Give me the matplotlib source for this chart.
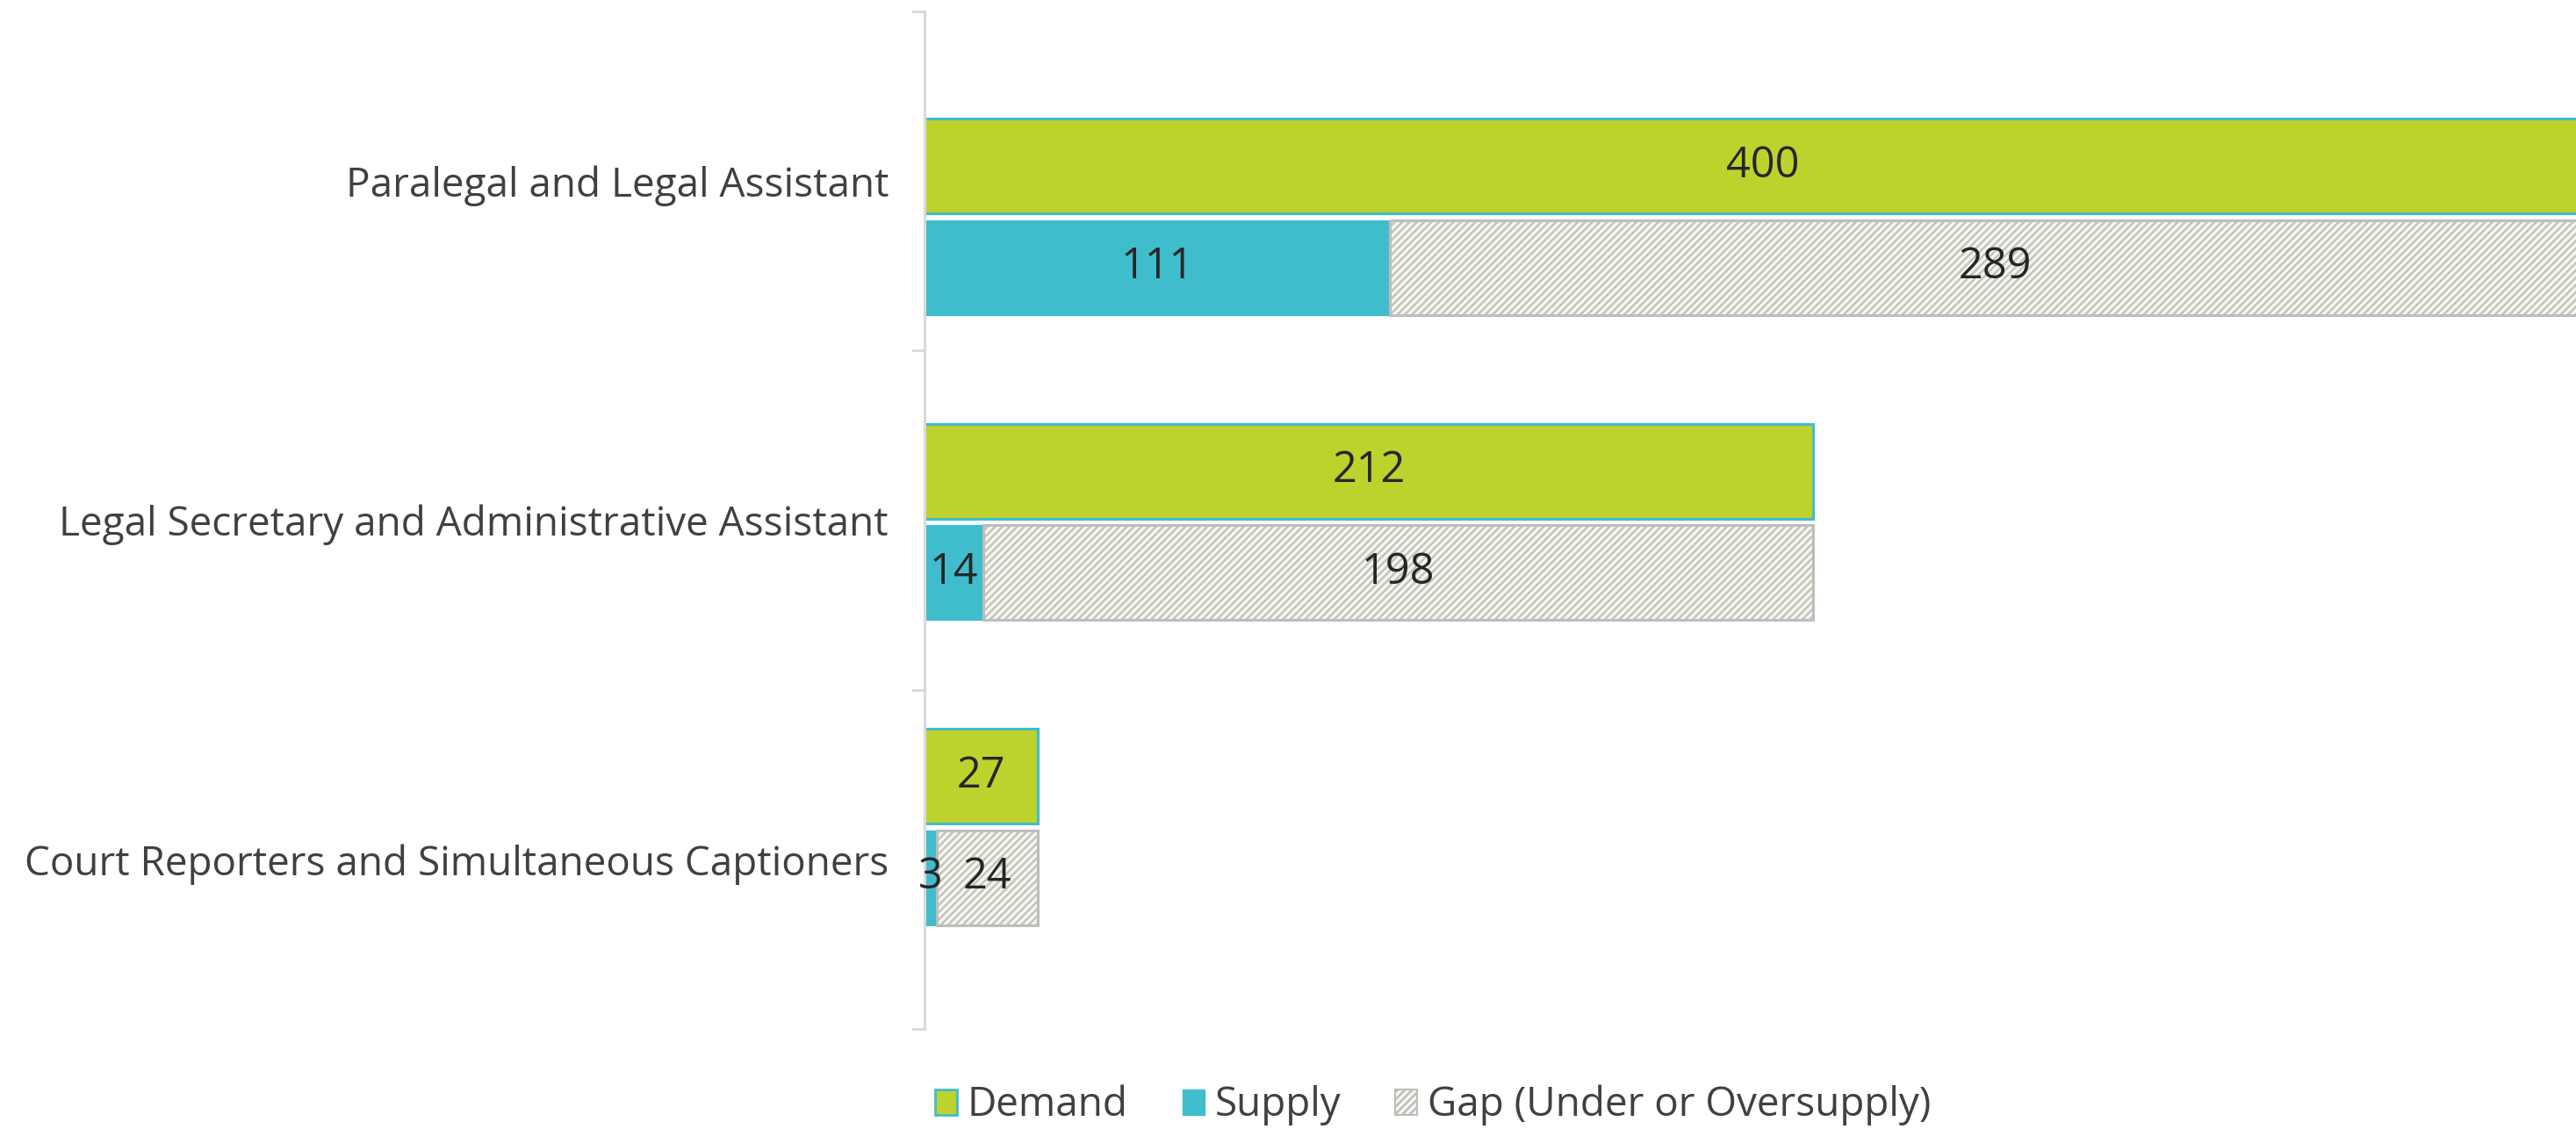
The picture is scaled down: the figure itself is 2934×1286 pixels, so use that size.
import matplotlib
matplotlib.use("Agg")
import matplotlib.pyplot as plt
from matplotlib.patches import Patch
import numpy as np

categories = ["Paralegal and Legal Assistant",
              "Legal Secretary and Administrative Assistant",
              "Court Reporters and Simultaneous Captioners"]
demand = [400, 212, 27]
supply = [111, 14, 3]
gap = [289, 198, 24]
legend_labels = ["Demand", "Supply", "Gap (Under or Oversupply)"]

GREEN = "#BED22E"
CYAN = "#40BDCD"
GAP_FILL = "#F6F6EE"
GAP_HATCH = "#C4C4BD"
GAP_EDGE = "#BDBDBD"
AXIS = "#D9D9D9"
TEXT = "#404040"

plt.rcParams['font.family'] = ['Open Sans', 'DejaVu Sans']
plt.rcParams['hatch.linewidth'] = 1.8

W, H, DPI = 2934, 1286, 100
fig = plt.figure(figsize=(W / DPI, H / DPI), dpi=DPI)
ax_left = 1053 / W
ax_top = 1 - 13 / H
ax_bot = 1 - 1172 / H
ax = fig.add_axes([ax_left, ax_bot, 1 - ax_left, ax_top - ax_bot])

px_per_unit = 4.774
ax.set_xlim(0, (W - 1053) / px_per_unit)
ax.set_ylim(2.5, -0.5)

n = len(categories)
cat_px = (1172 - 13) / 3.0
group_step = 347.5 / cat_px
bar_h = 108 / cat_px
demand_pos = -0.044 + group_step * np.arange(n)
supply_pos = demand_pos + 115.5 / cat_px

ax.barh(demand_pos, demand, height=bar_h, color=GREEN, edgecolor=CYAN, linewidth=2.2, zorder=2)
ax.barh(supply_pos, supply, height=bar_h, color=CYAN, edgecolor=CYAN, linewidth=0.8, zorder=2)
ax.barh(supply_pos, gap, left=supply, height=bar_h, color=GAP_FILL, edgecolor=GAP_HATCH,
        hatch="////", linewidth=0, zorder=2)
ax.barh(supply_pos, gap, left=supply, height=bar_h, color="none", edgecolor=GAP_EDGE,
        linewidth=2.2, zorder=3)

fs_lab = 33
fs_val = 35
for i in range(n):
    ax.text(demand[i] / 2, demand_pos[i], str(demand[i]), ha="center", va="center",
            fontsize=fs_val, color="#262626", zorder=5)
    ax.text(supply[i] / 2, supply_pos[i], str(supply[i]), ha="center", va="center",
            fontsize=fs_val, color="#262626", zorder=5)
    ax.text(supply[i] + gap[i] / 2, supply_pos[i], str(gap[i]), ha="center", va="center",
            fontsize=fs_val, color="#262626", zorder=5)

ax.set_yticks(np.arange(n))
ax.set_yticklabels(categories, fontsize=fs_lab, color=TEXT)
ax.tick_params(axis="y", which="major", length=0, pad=29.5)
ax.set_yticks(np.arange(n + 1) - 0.5, minor=True)
ax.tick_params(axis="y", which="minor", length=10.5, width=2, color=AXIS)
ax.set_xticks([])

for s in ["top", "right", "bottom"]:
    ax.spines[s].set_visible(False)
ax.spines["left"].set_color(AXIS)
ax.spines["left"].set_linewidth(2.2)

handles = [Patch(facecolor=GREEN, edgecolor=CYAN, linewidth=2),
           Patch(facecolor=CYAN, edgecolor=CYAN, linewidth=1),
           Patch(facecolor=GAP_FILL, edgecolor=GAP_EDGE, hatch="////", linewidth=1.5)]
leg = fig.legend(handles, legend_labels, loc="center", ncol=3,
                 bbox_to_anchor=(1632 / W, 1 - 1259 / H), frameon=False,
                 fontsize=fs_lab, handlelength=0.55, handleheight=0.6,
                 handletextpad=0.25, columnspacing=1.35)
for t in leg.get_texts():
    t.set_color(TEXT)

fig.savefig("out.png", dpi=DPI)
